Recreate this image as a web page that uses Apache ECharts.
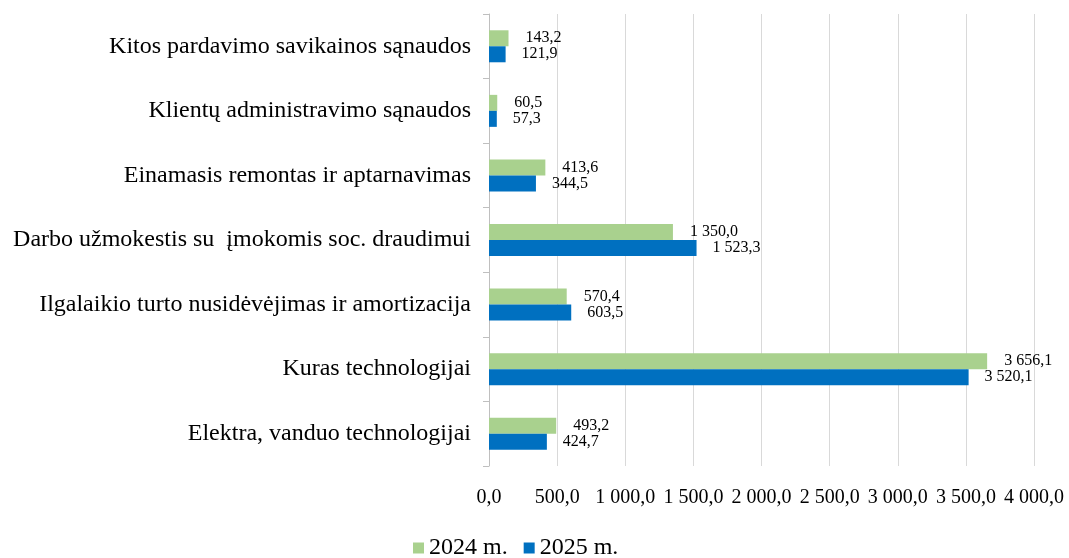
<!DOCTYPE html>
<html>
<head>
<meta charset="utf-8">
<script src="https://cdn.jsdelivr.net/npm/echarts@6/dist/echarts.min.js"></script>
<style>
html, body { margin: 0; padding: 0; background: #fff; }
#chart { width: 1069px; height: 558px; }
</style>
</head>
<body>
<div id="chart"></div>
<script>
// kategorijos is virsaus i apacia
var categories = [
	'Kitos pardavimo savikainos sąnaudos',
	'Klientų administravimo sąnaudos',
	'Einamasis remontas ir aptarnavimas',
	'Darbo užmokestis su  įmokomis soc. draudimui',
	'Ilgalaikio turto nusidėvėjimas ir amortizacija',
	'Kuras technologijai',
	'Elektra, vanduo technologijai'
];
var values2024 = [143.2, 60.5, 413.6, 1350.0, 570.4, 3656.1, 493.2];
var values2025 = [121.9, 57.3, 344.5, 1523.3, 603.5, 3520.1, 424.7];
var seriesNames = ['2024 m.', '2025 m.'];
var xTicks = [0, 500, 1000, 1500, 2000, 2500, 3000, 3500, 4000];

var font = '"Liberation Serif", "Times New Roman", serif';

function fmt(v) {
	var s = Number(v).toFixed(1).split('.');
	var int = s[0].replace(/\B(?=(\d{3})+(?!\d))/g, ' ');
	return int + ',' + s[1];
}

var myChart = echarts.init(document.getElementById('chart'));
myChart.setOption({
	animation: false,
	textStyle: { fontFamily: font },
	grid: {
		left: 489,
		right: 35,
		top: 14,
		bottom: 92,
		containLabel: false
	},
	legend: {
		data: seriesNames,
		left: 413,
		top: 536,
		padding: 0,
		icon: 'rect',
		itemWidth: 11,
		itemHeight: 11,
		itemGap: 16,
		textStyle: { fontFamily: font, fontSize: 24, color: '#000' }
	},
	xAxis: {
		type: 'value',
		min: xTicks[0],
		max: xTicks[xTicks.length - 1],
		interval: 500,
		axisLine: { show: false },
		axisTick: { show: false },
		axisLabel: {
			margin: 22,
			fontFamily: font,
			fontSize: 20,
			color: '#000',
			formatter: function (v) { return fmt(v); }
		},
		splitLine: { lineStyle: { color: '#d9d9d9', width: 1 } }
	},
	yAxis: {
		type: 'category',
		inverse: true,
		data: categories,
		axisLine: { lineStyle: { color: '#bfbfbf', width: 1 } },
		axisTick: { show: true, length: 6, lineStyle: { color: '#bfbfbf' } },
		axisLabel: {
			margin: 18,
			fontFamily: font,
			fontSize: 24,
			color: '#000'
		}
	},
	series: [
		{
			name: seriesNames[0],
			type: 'bar',
			data: values2024,
			barWidth: 16,
			barGap: '0%',
			itemStyle: { color: '#a9d18e' },
			label: {
				show: true,
				position: 'right',
				distance: 17,
				fontFamily: font,
				fontSize: 16,
				color: '#000',
				formatter: function (p) { return fmt(p.value); }
			}
		},
		{
			name: seriesNames[1],
			type: 'bar',
			data: values2025,
			barWidth: 16,
			barGap: '0%',
			itemStyle: { color: '#0070c0' },
			label: {
				show: true,
				position: 'right',
				distance: 16,
				fontFamily: font,
				fontSize: 16,
				color: '#000',
				formatter: function (p) { return fmt(p.value); }
			}
		}
	]
});
</script>
</body>
</html>
